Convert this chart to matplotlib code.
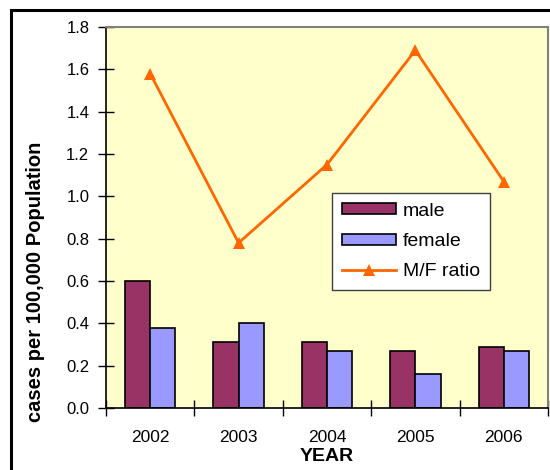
import matplotlib
matplotlib.use("Agg")
import matplotlib.pyplot as plt
from matplotlib.patches import Rectangle
import numpy as np

plt.rcParams['font.family'] = ['Liberation Sans', 'DejaVu Sans']

years = ["2002", "2003", "2004", "2005", "2006"]
male = [0.60, 0.31, 0.31, 0.27, 0.29]
female = [0.38, 0.40, 0.27, 0.16, 0.27]
mf_ratio = [1.58, 0.78, 1.15, 1.69, 1.07]
y_ticks = [0.0, 0.2, 0.4, 0.6, 0.8, 1.0, 1.2, 1.4, 1.6, 1.8]

fig = plt.figure(figsize=(5.5, 4.7), dpi=100)
ax = fig.add_axes([106/550, 1-408/470, 442/550, 381/470])
ax.set_facecolor("#FFFFCC")

x = np.arange(len(years))
w = 0.286
b1 = ax.bar(x - w/2, male, w, color="#993366", edgecolor="black", linewidth=1.2,
            label="male", zorder=2)
b2 = ax.bar(x + w/2, female, w, color="#9999FF", edgecolor="black", linewidth=1.2,
            label="female", zorder=2)
l1, = ax.plot(x, mf_ratio, color="#FF6600", linewidth=2, marker="^", markersize=9,
              markeredgewidth=0, label="M/F ratio", zorder=3)

ax.set_xlim(-0.5, len(years) - 0.5)
ax.set_ylim(0, 1.8)
ax.set_yticks(y_ticks)
ax.set_yticklabels([f"{v:.1f}" for v in y_ticks], fontsize=12)
ax.set_xticks(x)
ax.set_xticklabels(years, fontsize=12.5)
ax.tick_params(axis="x", length=0, pad=16)
ax.set_xticks(np.arange(-0.5, len(years) + 0.5, 1), minor=True)
ax.tick_params(axis="x", which="minor", direction="inout", length=12, width=1)
ax.tick_params(axis="y", direction="inout", length=12, width=1, pad=6)

for s in ("top", "right"):
    ax.spines[s].set_color("#808080")
    ax.spines[s].set_linewidth(1.5)
for s in ("left", "bottom"):
    ax.spines[s].set_color("black")
    ax.spines[s].set_linewidth(1.2)

ax.set_xlabel("YEAR", fontsize=14, fontweight="bold", labelpad=2)
ax.set_ylabel("cases per 100,000 Population", fontsize=14.5, fontweight="bold")
ax.yaxis.set_label_coords(-0.138, 0.33)

leg = ax.legend(handles=[b1, b2, l1], loc="upper left",
                bbox_to_anchor=(0.511, 0.564), borderaxespad=0,
                fontsize=14, frameon=True, fancybox=False, edgecolor="#404040",
                facecolor="white", framealpha=1, handlelength=2.8,
                handleheight=0.5, labelspacing=0.68, borderpad=0.5,
                handletextpad=0.35)
leg.get_frame().set_linewidth(1)

# outer chart frame
fig.patches.append(Rectangle((11/550, -0.05), 1.1, 1.05 - 10/470,
                             transform=fig.transFigure, fill=False,
                             edgecolor="black", linewidth=2.2))

fig.savefig("out.png", dpi=100, facecolor="white")
